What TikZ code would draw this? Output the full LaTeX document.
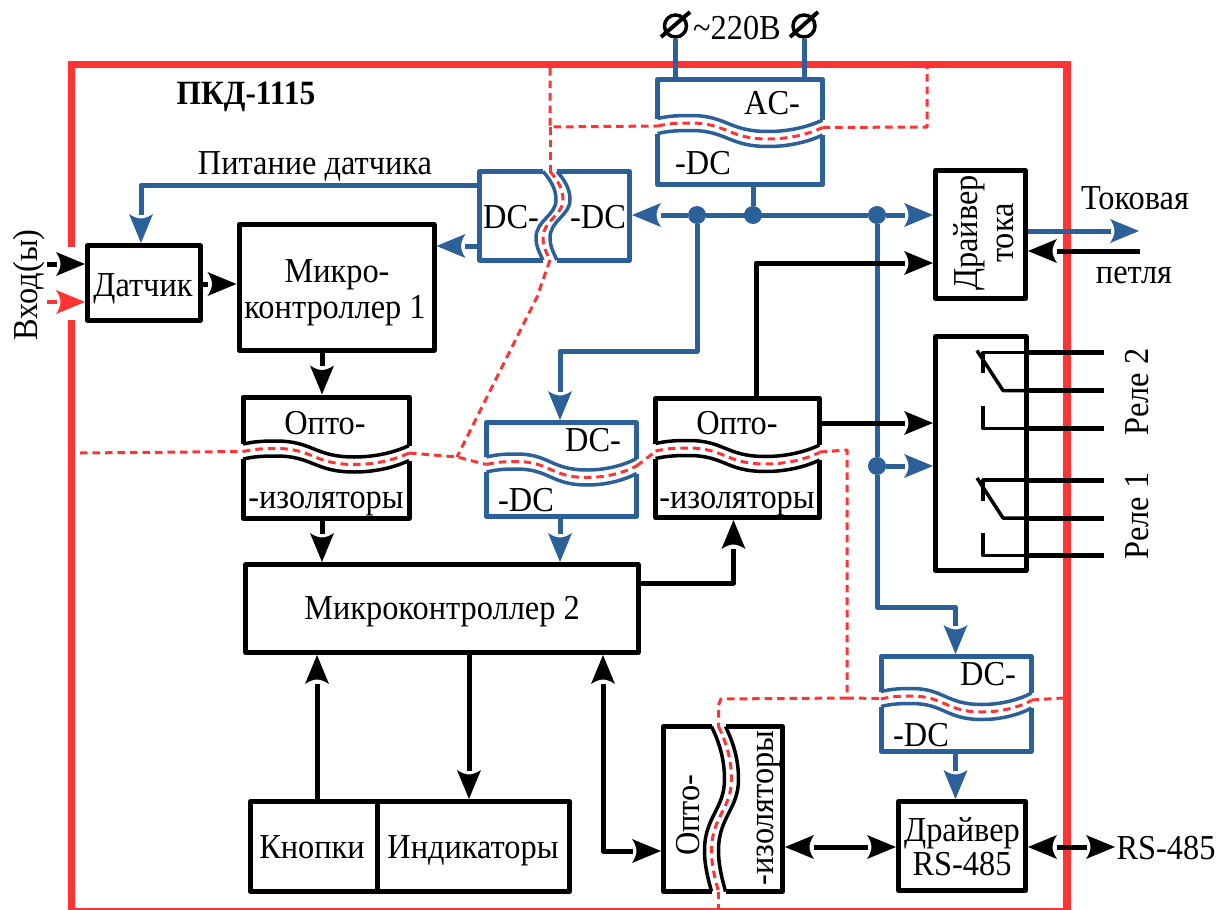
\documentclass[tikz,border=0pt]{standalone}
\usepackage{fontspec}
\setmainfont[FakeStretch=0.925]{Liberation Serif}
\usetikzlibrary{arrows.meta,calc}
\definecolor{rd}{HTML}{FF3333}
\definecolor{bl}{HTML}{2B6099}
\newcommand\fs{\fontsize{35}{40}\selectfont}
\def\hcurve{(0,0) .. controls (.07,-2.5) and (.12,-3) .. (.2,-3) .. controls (.42,-3) and (.43,13) .. (.67,13) .. controls (.8,13) and (.92,8) .. (1,1.5)}
\def\vcurve{(0,0) .. controls (8,.1) and (13,.2) .. (13,.32) .. controls (13,.5) and (-7,.55) .. (-7,.75) .. controls (-7,.85) and (-3,.93) .. (0,1)}
\pgfdeclarearrow{
  name=Hd,
  setup code={
    \pgfarrowssettipend{0pt}
    \pgfarrowssetbackend{-29pt}
    \pgfarrowssetlineend{-28.5pt}
    \pgfarrowssetvisualbackend{-29pt}
    \pgfarrowssetvisualtipend{0pt}
    \pgfarrowshullpoint{0pt}{0pt}
    \pgfarrowshullpoint{-29pt}{12pt}
    \pgfarrowshullpoint{-29pt}{-12pt}
  },
  drawing code={
    \pgfpathmoveto{\pgfqpoint{0pt}{0pt}}
    \pgfpathlineto{\pgfqpoint{-29pt}{12pt}}
    \pgfpathcurveto{\pgfqpoint{-26pt}{7.5pt}}{\pgfqpoint{-24.5pt}{3.5pt}}{\pgfqpoint{-24.5pt}{0pt}}
    \pgfpathcurveto{\pgfqpoint{-24.5pt}{-3.5pt}}{\pgfqpoint{-26pt}{-7.5pt}}{\pgfqpoint{-29pt}{-12pt}}
    \pgfpathclose
    \pgfusepathqfill
  }
}
\tikzset{
  wave/.style={line width=3.5pt},
  redd/.style={rd,line width=3pt,dash pattern=on 7.5pt off 5pt,line join=round},
  arr/.style={line width=5pt,line join=round,-{Hd}},
  dbl/.style={line width=5pt,line join=round,{Hd}-{Hd}},
  blk/.style={draw=black,line width=5pt,line join=round,inner sep=0pt},
  ghost/.style={line width=5pt,inner sep=0pt},
  txt/.style={font=\fs,inner sep=0pt,text height=23pt,text depth=0pt},
  dot/.style={circle,fill=bl,inner sep=0pt,minimum size=18pt},
  term/.style={circle,draw=black,line width=3.5pt,inner sep=0pt,minimum size=22pt},
}
\newcommand\bx[6][blk]{\node[#1,minimum width={(#4-#2)*1pt},minimum height={(#5-#3)*1pt}] (#6) at ({(#2+#4)/2},{(#3+#5)/2}) {};}
\newcommand\splitH[7]{%
  \bx[ghost]{#3}{#4}{#5}{#6}{#1}
  \draw[#2,line width=5pt,line join=round] (#3,#7-7.5) -- (#3,#4) -- (#5,#4) -- (#5,#7-6);
  \draw[#2,line width=5pt,line join=round] (#3,#7+7.5) -- (#3,#6) -- (#5,#6) -- (#5,#7+9);
  \begin{scope}[shift={(#3,#7)},xscale={#5-#3}]
    \draw[#2,wave,shift={(0,-7.5)}] \hcurve;
    \draw[#2,wave,shift={(0,7.5)}] \hcurve;
    \draw[redd] \hcurve;
  \end{scope}}
\newcommand\splitV[7]{%
  \bx[ghost]{#3}{#4}{#5}{#6}{#1}
  \draw[#2,line width=5pt,line join=round] (#7-7,#4) -- (#3,#4) -- (#3,#6) -- (#7-7,#6);
  \draw[#2,line width=5pt,line join=round] (#7+7,#4) -- (#5,#4) -- (#5,#6) -- (#7+7,#6);
  \begin{scope}[shift={(#7,#4)},yscale={#6-#4}]
    \draw[#2,wave,shift={(-7,0)}] \vcurve;
    \draw[#2,wave,shift={(7,0)}] \vcurve;
    \draw[redd] \vcurve;
  \end{scope}}
\begin{document}
\begin{tikzpicture}[x=1pt,y=-1pt]
\useasboundingbox (0,0) rectangle (1216,910);
\fill[white] (0,0) rectangle (1216,910);
% enclosure
\draw[rd,line width=7.5pt,line join=miter] (71.5,247) -- (71.5,64.5) -- (1067,64.5) -- (1067,912) -- (71.5,912) -- (71.5,320);
% isolation barrier
\draw[redd] (80,453) -- (243,451.5);
\draw[redd] (409,453) -- (457,457) -- (486.5,464.5);
\draw[redd] (636.5,466) -- (655.5,451.5);
\draw[redd] (819.5,452) -- (847,450) -- (847,698) -- (881,698.5);
\draw[redd] (1031.5,700) -- (1063,698);
\draw[redd] (847,698) -- (721,699) -- (718.5,705) -- (718.5,726.5);
\draw[redd] (718.5,891.5) -- (718.5,908);
\draw[redd] (550,68) -- (550,127) -- (657.5,126);
\draw[redd] (550,127) -- (550,171.5);
\draw[redd] (550,260) -- (537,297) -- (457,457);
\draw[redd] (822.5,127.5) -- (927,127) -- (927,68);
% plain blocks
\bx{87.5}{245.5}{200}{320.5}{sens}
\bx{239}{224.5}{434}{350}{mc1}
\bx{245.5}{564.5}{638}{652.5}{mc2}
\bx{250.5}{801.5}{377}{891.5}{btn}
\bx{377}{801.5}{569.5}{891.5}{ind}
\bx{935.5}{170.5}{1025.5}{298.5}{cdrv}
\bx{935.5}{336.5}{1026}{570.5}{rel}
\bx{898.5}{801.5}{1025.5}{890.5}{rsd}
% split blocks
\splitH{ac}{bl}{657.5}{79.5}{822.5}{184.5}{126}
\splitH{op1}{black}{243}{397}{409}{518}{451.5}
\splitH{dc2}{bl}{486.5}{422.5}{636.5}{516.5}{464.5}
\splitH{op2}{black}{655.5}{398.5}{819.5}{517.5}{451}
\splitH{dc3}{bl}{881}{656.5}{1031.5}{751.5}{699}
\splitV{dc1}{bl}{479.5}{171.5}{629.5}{260}{550}
\splitV{op3}{black}{663.5}{726.5}{782.5}{891.5}{718.5}
% junction points
\node[dot] (j1) at (697,215) {};
\node[dot] (j2) at (753,215) {};
\node[dot] (j3) at (877,215) {};
\node[dot] (j4) at (877,466) {};
\coordinate (inA) at (47,264);
\coordinate (inB) at (47,302);
\coordinate (mid) at (202,284);
\coordinate (s1) at (479.5,185);
\coordinate (s2) at (141,185);
\coordinate (e1) at (463,246);
% mains
\node[term] (t1) at (675.5,26) {};
\node[term] (t2) at (804,26) {};
\coordinate (t1a) at (661,37);\coordinate (t1b) at (690,12);
\coordinate (t2a) at (790,37);\coordinate (t2b) at (818,12);
\draw[line width=4pt] (t1a) -- (t1b);
\draw[line width=4pt] (t2a) -- (t2b);
\draw[bl,line width=5pt] (t1.south) -- (t1.south |- ac.north);
\draw[bl,line width=5pt] (t2.south) -- (t2.south |- ac.north);
% blue connectors
\draw[bl,arr] (j1) -- (dc1.east |- j1);
\draw[bl,arr] (j3) -- (cdrv.west |- j3);
\draw[bl,line width=5pt] (j1) -- (j3);
\draw[bl,line width=5pt] (j2) -- (j2 |- ac.south);
\draw[bl,arr] (dc1.west |- s1) -- (s2) -- (s2 |- sens.north);
\draw[bl,arr] (dc1.west |- e1) -- (mc1.east |- e1);
\coordinate (b1) at (697,351);\coordinate (b2) at (560,351);
\draw[bl,arr] (j1) -- (b1) -- (b2) -- (b2 |- dc2.north);
\draw[bl,arr] (b2 |- dc2.south) -- (b2 |- mc2.north);
\draw[bl,line width=5pt] (j3) -- (j4);
\coordinate (b3) at (877,607);\coordinate (b4) at (955.5,607);
\draw[bl,arr] (j4) -- (b3) -- (b4) -- (b4 |- dc3.north);
\draw[bl,arr] (j4) -- (rel.west |- j4);
\draw[bl,arr] (b4 |- dc3.south) -- (b4 |- rsd.north);
\coordinate (o1) at (1139,231);
\draw[bl,arr] (cdrv.east |- o1) -- (o1);
% black connectors
\coordinate (o2) at (1140,251);
\draw[arr] (o2) -- (cdrv.east |- o2);
\draw[arr] (inA) -- (sens.west |- inA);
\draw[rd,line width=4pt,-{Hd}] (inB) -- (sens.west |- inB);
\draw[arr] (sens.east |- mid) -- (mc1.west |- mid);
\coordinate (v1) at (322,400);
\draw[arr] (v1 |- mc1.south) -- (v1 |- op1.north);
\draw[arr] (v1 |- op1.south) -- (v1 |- mc2.north);
\coordinate (v2) at (733.5,583);
\draw[arr] (mc2.east |- v2) -- (v2) -- (v2 |- op2.south);
\coordinate (v3) at (756,263);
\draw[arr] (v3 |- op2.north) -- (v3) -- (cdrv.west |- v3);
\coordinate (v4) at (822,423);
\draw[arr] (op2.east |- v4) -- (rel.west |- v4);
\coordinate (v5) at (469,700);
\draw[arr] (v5 |- mc2.south) -- (v5 |- ind.north);
\coordinate (v6) at (317,700);
\draw[arr] (v6 |- btn.north) -- (v6 |- mc2.south);
\coordinate (v7) at (603,851);
\draw[dbl] (v7 |- mc2.south) -- (v7) -- (op3.west |- v7);
\coordinate (v8) at (840,847);
\draw[dbl] (op3.east |- v8) -- (rsd.west |- v8);
\coordinate (v9) at (1115,847);
\draw[dbl] (rsd.east |- v9) -- (v9);
% relay contacts
\foreach \n/\a/\b/\c in {p/352.5/390.5/428.5,q/480/518/555.5}{
  \coordinate (\n a) at (1104,\a);
  \coordinate (\n b) at (1104,\b);
  \coordinate (\n c) at (1104,\c);
  \draw[line width=5pt] (rel.east |- \n a) -- (\n a);
  \draw[line width=5pt] (rel.east |- \n b) -- (\n b);
  \draw[line width=5pt] (rel.east |- \n c) -- (\n c);
  \draw[line width=3.5pt,line join=round] (983,\a+20.5) -- (983,\a) -- (rel.east |- \n a);
  \draw[line width=3.5pt,line join=round] (977,\a-2) -- (1003,\b) -- (rel.east |- \n b);
  \draw[line width=3.5pt,line join=round] (983,\c-22.5) -- (983,\c) -- (rel.east |- \n c);
}
% labels
\node[txt,font=\fontsize{34}{38}\selectfont\bfseries] (lt) at (246,93) {ПКД-1115};
\node[txt] (l1) at (315,163) {Питание датчика};
\node[txt,rotate=90] (l2) at (26,285) {Вход(ы)};
\node[txt] (l3) at (143,285) {Датчик};
\node[txt] (l4) at (337,271) {Микро-};
\node[txt] (l5) at (335,307) {контроллер 1};
\node[txt] (l6) at (511,217) {DC-};
\node[txt] (l7) at (598,217) {-DC};
\node[txt] (l8) at (772,103) {AC-};
\node[txt] (l9) at (703,163) {-DC};
\node[txt] (l10) at (737,28) {\char126 220В};
\node[txt] (l11) at (325,423) {Опто-};
\node[txt] (l12) at (326,497) {-изоляторы};
\node[txt] (l13) at (593,440) {DC-};
\node[txt] (l14) at (526,500) {-DC};
\node[txt] (l15) at (737,423) {Опто-};
\node[txt] (l16) at (737,497) {-изоляторы};
\node[txt] (l17) at (988,674) {DC-};
\node[txt] (l18) at (921,735) {-DC};
\node[txt] (l19) at (442,608) {Микроконтроллер 2};
\node[txt] (l20) at (312,847) {Кнопки};
\node[txt] (l21) at (473,847) {Индикаторы};
\node[txt,rotate=90] (l22) at (688,815) {Опто-};
\node[txt,rotate=90] (l23) at (762,808) {-изоляторы};
\node[txt] (l24) at (962,830) {Драйвер};
\node[txt] (l25) at (962,864) {RS-485};
\node[txt] (l26) at (1166,848) {RS-485};
\node[txt,rotate=90] (l27) at (966,233) {Драйвер};
\node[txt,rotate=90] (l28) at (1002,233) {тока};
\node[txt] (l29) at (1135,198) {Токовая};
\node[txt] (l30) at (1134,272) {петля};
\node[txt,rotate=90] (l31) at (1137,392) {Реле 2};
\node[txt,rotate=90] (l32) at (1137,516) {Реле 1};
\end{tikzpicture}
\end{document}
